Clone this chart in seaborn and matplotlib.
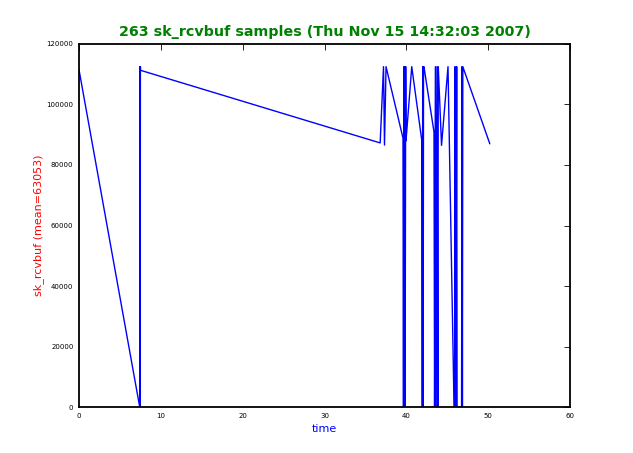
import numpy as np
import pandas as pd
import seaborn as sns
import matplotlib
matplotlib.use("Agg")
import matplotlib.pyplot as plt

# sample times and sk_rcvbuf values
time = [0.0, 7.42, 7.45, 7.48, 7.50, 7.52,
        36.8, 37.21, 37.33, 37.52,
        39.59, 39.65, 39.70, 39.75, 39.80, 39.85, 39.92, 39.96,
        40.66, 41.88, 41.95, 42.00, 42.05, 42.10, 42.15,
        43.38, 43.45, 43.55, 43.65, 43.75, 43.85, 43.90,
        44.30, 45.09, 45.83, 45.90, 45.95, 46.05, 46.15, 46.20,
        46.75, 46.80, 46.85, 46.90, 50.20]
rcvbuf = [111500, 0, 112500, 0, 112500, 111300,
          87300, 112500, 86600, 112500,
          88900, 0, 112500, 0, 112500, 0, 112500, 88000,
          112500, 88260, 0, 112500, 0, 112500, 112500,
          90900, 0, 112500, 0, 112500, 0, 112500,
          86500, 112500, 0, 0, 112500, 0, 112500, 0,
          0, 112500, 0, 112500, 87000]

df = pd.DataFrame({"time": time, "sk_rcvbuf": rcvbuf})

sns.set_style("white")
fig = plt.figure(figsize=(6.33, 4.53), dpi=100)
ax = fig.add_axes([0.1248, 0.1015, 0.7757, 0.8014])

sns.lineplot(data=df, x="time", y="sk_rcvbuf", sort=False, estimator=None,
             color="#0000ff", linewidth=1.0, ax=ax)

ax.set_xlim(0, 60)
ax.set_ylim(0, 120000)
ax.set_xticks(range(0, 61, 10))
ax.set_yticks(range(0, 120001, 20000))
ax.tick_params(direction="in", top=True, right=True, labelsize=5,
               length=4, width=0.6, color="black", labelcolor="black", pad=4)
for s in ax.spines.values():
    s.set_color("black")
    s.set_linewidth(1.3)

ax.set_title("263 sk_rcvbuf samples (Thu Nov 15 14:32:03 2007)",
             color="green", fontsize=10.3, fontweight="bold", pad=6)
ax.set_xlabel("time", color="blue", fontsize=8, labelpad=4)
ax.set_ylabel("sk_rcvbuf (mean=63053)", color="red", fontsize=8, labelpad=2)

fig.savefig("out.png", dpi=100)
